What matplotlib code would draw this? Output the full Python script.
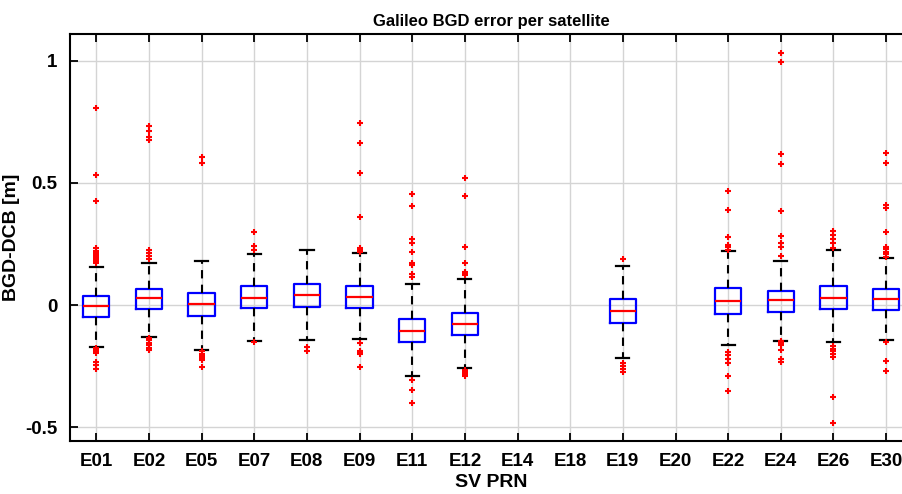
import matplotlib.pyplot as plt

sats = ["E01", "E02", "E05", "E07", "E08", "E09", "E11", "E12",
        "E14", "E18", "E19", "E20", "E22", "E24", "E26", "E30"]

# box statistics (E14, E18, E20 have no data)
used = ["E01", "E02", "E05", "E07", "E08", "E09", "E11", "E12",
        "E19", "E22", "E24", "E26", "E30"]
med = [-0.005, 0.027, 0.004, 0.030, 0.040, 0.033, -0.105, -0.079,
       -0.025, 0.016, 0.020, 0.027, 0.023]
q1 = [-0.050, -0.015, -0.044, -0.014, -0.007, -0.014, -0.153, -0.123,
      -0.075, -0.036, -0.027, -0.018, -0.022]
q3 = [0.036, 0.066, 0.050, 0.078, 0.086, 0.078, -0.056, -0.034,
      0.025, 0.068, 0.056, 0.078, 0.066]
whis_lo = [-0.173, -0.130, -0.182, -0.146, -0.143, -0.141, -0.291, -0.256,
           -0.216, -0.162, -0.146, -0.152, -0.143]
whis_hi = [0.156, 0.171, 0.182, 0.209, 0.225, 0.212, 0.086, 0.105,
           0.160, 0.220, 0.179, 0.224, 0.191]
outliers = [
    [0.805, 0.533, 0.424, 0.232, 0.222, 0.212, 0.203, 0.195, 0.187, 0.180, 0.172,
     -0.176, -0.183, -0.190, -0.197, -0.232, -0.245, -0.262],
    [0.734, 0.713, 0.687, 0.676, 0.225, 0.212, 0.200, 0.190,
     -0.135, -0.145, -0.155, -0.165, -0.175, -0.184],
    [0.604, 0.583, -0.190, -0.200, -0.210, -0.218, -0.225, -0.253],
    [0.298, 0.242, 0.225, -0.153],
    [-0.171, -0.187],
    [0.747, 0.665, 0.540, 0.359, 0.234, 0.226, 0.219,
     -0.154, -0.187, -0.194, -0.200, -0.253],
    [0.453, 0.406, 0.270, 0.253, 0.219, 0.171, 0.164, 0.127, 0.113,
     -0.307, -0.346, -0.400],
    [0.519, 0.445, 0.239, 0.171, 0.137, 0.130, 0.123,
     -0.266, -0.275, -0.283, -0.291],
    [0.190, -0.239, -0.250, -0.260, -0.273],
    [0.466, 0.387, 0.277, 0.246, 0.236, 0.225,
     -0.191, -0.205, -0.219, -0.236, -0.291, -0.352],
    [1.033, 0.993, 0.619, 0.577, 0.383, 0.284, 0.253, 0.239, 0.202,
     -0.146, -0.155, -0.164, -0.184, -0.219, -0.232],
    [0.303, 0.287, 0.269, 0.253, 0.232,
     -0.168, -0.180, -0.190, -0.200, -0.212, -0.376, -0.482],
    [0.624, 0.583, 0.410, 0.396, 0.300, 0.239, 0.228, 0.218, 0.208, 0.198,
     -0.150, -0.230, -0.270],
]

stats = []
for i in range(len(used)):
    stats.append({"med": med[i], "q1": q1[i], "q3": q3[i],
                  "whislo": whis_lo[i], "whishi": whis_hi[i],
                  "fliers": outliers[i]})
positions = [sats.index(s) + 1 for s in used]

plt.rcParams["font.family"] = ["Liberation Sans", "DejaVu Sans"]
plt.rcParams["font.weight"] = "bold"

fig = plt.figure(figsize=(9.03, 4.94), dpi=100)
ax = fig.add_axes([0.0775, 0.108, 0.933, 0.823])

ax.bxp(stats, positions=positions, widths=0.5, capwidths=0.25,
       boxprops=dict(color="blue", linewidth=1.6),
       medianprops=dict(color="red", linewidth=1.6),
       whiskerprops=dict(color="black", linewidth=1.5, linestyle=(0, (4, 3))),
       capprops=dict(color="black", linewidth=1.6),
       flierprops=dict(marker="+", markeredgecolor="red", markersize=5,
                       markeredgewidth=1.5, linestyle="none"))

ax.set_xlim(0.5, 16.5)
ax.set_ylim(-0.555, 1.109)
ax.set_xticks(range(1, len(sats) + 1))
ax.set_xticklabels(sats)
ax.set_yticks([-0.5, 0, 0.5, 1])
ax.set_yticklabels(["-0.5", "0", "0.5", "1"])
ax.grid(True, color="#d4d4d4", linewidth=1.0)
ax.set_axisbelow(True)
ax.tick_params(direction="in", length=6, width=1.3, labelsize=13.5, pad=9,
               top=True, right=True)
for sp in ax.spines.values():
    sp.set_linewidth(1.5)

ax.set_title("Galileo BGD error per satellite", fontsize=12, fontweight="bold", pad=6)
ax.set_xlabel("SV PRN", fontsize=14, fontweight="bold", labelpad=3)
ax.set_ylabel("BGD-DCB [m]", fontsize=14, fontweight="bold", labelpad=4)

fig.savefig("out.png", dpi=100)
